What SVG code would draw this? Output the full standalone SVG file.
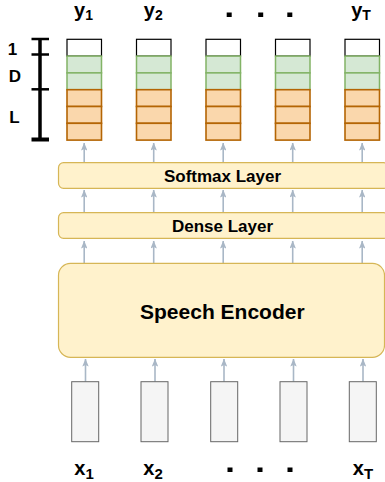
<svg xmlns="http://www.w3.org/2000/svg" width="385" height="482" viewBox="0 0 385 482">
<defs>
<style>
.t{font-family:"Liberation Sans",Arial,Helvetica,sans-serif;font-weight:bold;fill:#000}
.w{fill:#ffffff;stroke:#000000;stroke-width:1.2}
.g{fill:#d5e8d4;stroke:#82b366;stroke-width:1.5}
.o{fill:#fad7ac;stroke:#b46504;stroke-width:1.6}
.layer{fill:#fff2cc;stroke:#d6b656;stroke-width:1.2}
.in{fill:#f5f5f5;stroke:#666666;stroke-width:1}
.c{stroke:#a9b7c6;stroke-width:1.6;fill:none;marker-end:url(#ah)}
.br{stroke:#000;stroke-width:3;fill:none}
.dot{fill:#000}
</style>
<marker id="ah" viewBox="0 0 10 8" refX="9.5" refY="4" markerWidth="5" markerHeight="4" markerUnits="strokeWidth" orient="auto">
<path d="M0,0 L10,4 L0,8 L2,4 Z" fill="#a9b7c6"/>
</marker>
<g id="stack">
<rect class="w" x="0" y="39.3" width="34.5" height="16.8"/>
<rect class="g" x="0" y="56.1" width="34.5" height="16.8"/>
<rect class="g" x="0" y="72.9" width="34.5" height="16.8"/>
<rect class="o" x="0" y="89.7" width="34.5" height="16.8"/>
<rect class="o" x="0" y="106.5" width="34.5" height="16.8"/>
<rect class="o" x="0" y="123.3" width="34.5" height="16.8"/>
</g>
</defs>

<g id="connectors">
<line class="c" x1="84.2" y1="162.7" x2="84.2" y2="143"/>
<line class="c" x1="153.7" y1="162.7" x2="153.7" y2="143"/>
<line class="c" x1="223.2" y1="162.7" x2="223.2" y2="143"/>
<line class="c" x1="292.7" y1="162.7" x2="292.7" y2="143"/>
<line class="c" x1="362.2" y1="162.7" x2="362.2" y2="143"/>

<line class="c" x1="84.2" y1="212.7" x2="84.2" y2="190"/>
<line class="c" x1="153.7" y1="212.7" x2="153.7" y2="190"/>
<line class="c" x1="223.2" y1="212.7" x2="223.2" y2="190"/>
<line class="c" x1="292.7" y1="212.7" x2="292.7" y2="190"/>
<line class="c" x1="362.2" y1="212.7" x2="362.2" y2="190"/>

<line class="c" x1="84.2" y1="263.3" x2="84.2" y2="241"/>
<line class="c" x1="153.7" y1="263.3" x2="153.7" y2="241"/>
<line class="c" x1="223.2" y1="263.3" x2="223.2" y2="241"/>
<line class="c" x1="292.7" y1="263.3" x2="292.7" y2="241"/>
<line class="c" x1="362.2" y1="263.3" x2="362.2" y2="241"/>

<line class="c" x1="85.5" y1="381.7" x2="85.5" y2="359"/>
<line class="c" x1="155" y1="381.7" x2="155" y2="359"/>
<line class="c" x1="224" y1="381.7" x2="224" y2="359"/>
<line class="c" x1="293.5" y1="381.7" x2="293.5" y2="359"/>
<line class="c" x1="363" y1="381.7" x2="363" y2="359"/>
</g>

<g id="bracket">
<line class="br" x1="40" y1="39" x2="40" y2="140" style="stroke-width:3.5"/>
<line class="br" x1="31.5" y1="39" x2="49" y2="39" style="stroke-width:2.5"/>
<line class="br" x1="31.5" y1="54.5" x2="49" y2="54.5" style="stroke-width:2.5"/>
<line class="br" x1="31.5" y1="89.3" x2="49" y2="89.3" style="stroke-width:2.5"/>
<line class="br" x1="31.5" y1="139.5" x2="49" y2="139.5" style="stroke-width:4"/>
<text class="t" x="12.5" y="55" font-size="17" text-anchor="middle">1</text>
<text class="t" x="15" y="81.7" font-size="17" text-anchor="middle">D</text>
<text class="t" x="14.5" y="122.7" font-size="17" text-anchor="middle">L</text>
</g>

<g id="out1"><use href="#stack" x="67"/><text class="t" x="83.5" y="16.5" font-size="20" text-anchor="middle">y<tspan font-size="14" dy="3">1</tspan></text></g>
<g id="out2"><use href="#stack" x="136.5"/><text class="t" x="153.3" y="16.5" font-size="20" text-anchor="middle">y<tspan font-size="14" dy="3">2</tspan></text></g>
<g id="out3"><use href="#stack" x="206"/></g>
<g id="out4"><use href="#stack" x="275.5"/></g>
<g id="out5"><use href="#stack" x="345"/><text class="t" x="361" y="16.5" font-size="20" text-anchor="middle">y<tspan font-size="14" dy="3">T</tspan></text></g>
<g id="topdots">
<rect class="dot" x="226.7" y="12.5" width="5" height="4.5"/>
<rect class="dot" x="258.2" y="12.5" width="5" height="4.5"/>
<rect class="dot" x="287.3" y="12.5" width="5" height="4.5"/>
</g>

<g id="softmax">
<rect class="layer" x="58.5" y="162.7" width="330" height="25.6" rx="5"/>
<text class="t" x="222.5" y="181.5" font-size="17" text-anchor="middle">Softmax Layer</text>
</g>
<g id="dense">
<rect class="layer" x="58.5" y="212.7" width="330" height="25.6" rx="5"/>
<text class="t" x="222.5" y="231.5" font-size="17" text-anchor="middle">Dense Layer</text>
</g>
<g id="encoder">
<rect class="layer" x="58.5" y="263.3" width="326" height="94" rx="12"/>
<text class="t" x="222.3" y="319" font-size="21" text-anchor="middle">Speech Encoder</text>
</g>

<g id="in1"><rect class="in" x="71.7" y="381.7" width="27" height="60"/><text class="t" x="84" y="475" font-size="20" text-anchor="middle">x<tspan font-size="15" dy="4">1</tspan></text></g>
<g id="in2"><rect class="in" x="141" y="381.7" width="27" height="60"/><text class="t" x="153" y="475" font-size="20" text-anchor="middle">x<tspan font-size="15" dy="4">2</tspan></text></g>
<g id="in3"><rect class="in" x="210.7" y="381.7" width="27" height="60"/></g>
<g id="in4"><rect class="in" x="280" y="381.7" width="27" height="60"/></g>
<g id="in5"><rect class="in" x="349.3" y="381.7" width="27" height="60"/><text class="t" x="363" y="475" font-size="20" text-anchor="middle">x<tspan font-size="15" dy="4">T</tspan></text></g>
<g id="bottomdots">
<rect class="dot" x="227.5" y="467.5" width="5" height="4.5"/>
<rect class="dot" x="257.5" y="467.5" width="5" height="4.5"/>
<rect class="dot" x="287.5" y="467.5" width="5" height="4.5"/>
</g>
</svg>
